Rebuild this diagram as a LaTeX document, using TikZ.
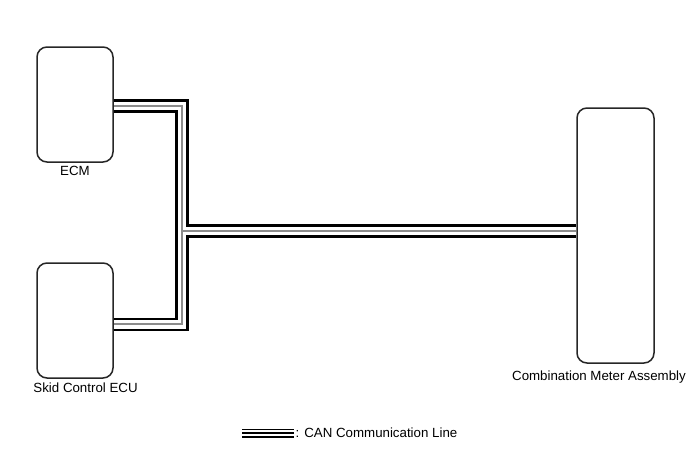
\documentclass[tikz,border=0pt]{standalone}
\usepackage{fontspec}
\setmainfont{Liberation Sans}
\usepackage{tikz}
\usetikzlibrary{positioning, backgrounds}
\definecolor{cangray}{gray}{0.55}

\begin{document}
\begin{tikzpicture}[
  x=1pt, y=-1pt,
  unit/.style={draw=black!85, line width=1.5pt, rounded corners=10pt, inner sep=0pt},
  lbl/.style={font=\fontsize{13.3}{15}\selectfont},
  canouter/.style={draw=black, line width=13.5pt},
  caninner/.style={draw=white, line width=8.5pt},
  cancore/.style={draw=cangray, line width=2.2pt}
  ]
  \useasboundingbox (0,0) rectangle (691,467);
  \node[unit, minimum width=76pt, minimum height=115pt] (ecm)   at (75,104.5)  {};
  \node[unit, minimum width=76pt, minimum height=115pt] (skid)  at (75,320.5)  {};
  \node[unit, minimum width=77pt, minimum height=255pt] (meter) at (615.5,235.5) {};
  \node[lbl, below=0pt of ecm] (ecmlbl) {ECM};
  \node[lbl, inner sep=0pt, below right=4pt and -3pt of skid.south west] (skidlbl) {Skid Control ECU};
  \node[lbl, inner sep=0pt, below=7pt of meter.south, xshift=-16.5pt] (meterlbl) {Combination Meter Assembly};
  \coordinate (ecmtap)  at (182,106);
  \coordinate (skidtap) at (182,324.3);
  \coordinate (jn)      at (182,230.8);
  \begin{scope}[on background layer]
    \foreach \layer in {canouter,caninner,cancore} {
      \draw[\layer] (ecm.east |- ecmtap) -- (ecmtap) -- (skidtap) -- (skid.east |- skidtap);
      \draw[\layer] (jn) -- (meter.west |- jn);
    }
  \end{scope}
  % legend
  \coordinate (legA) at (242,433);
  \coordinate (legB) at (294,433);
  \draw[line width=1.3pt] ([yshift=3.4pt]legA) -- ([yshift=3.4pt]legB);
  \draw[line width=1.3pt] (legA) -- (legB);
  \draw[line width=2pt] ([yshift=-3.8pt]legA) -- ([yshift=-3.8pt]legB);
  \node[lbl, inner sep=1.5pt, right=0pt of legB] (legtxt) {: CAN Communication Line};
\end{tikzpicture}
\end{document}
